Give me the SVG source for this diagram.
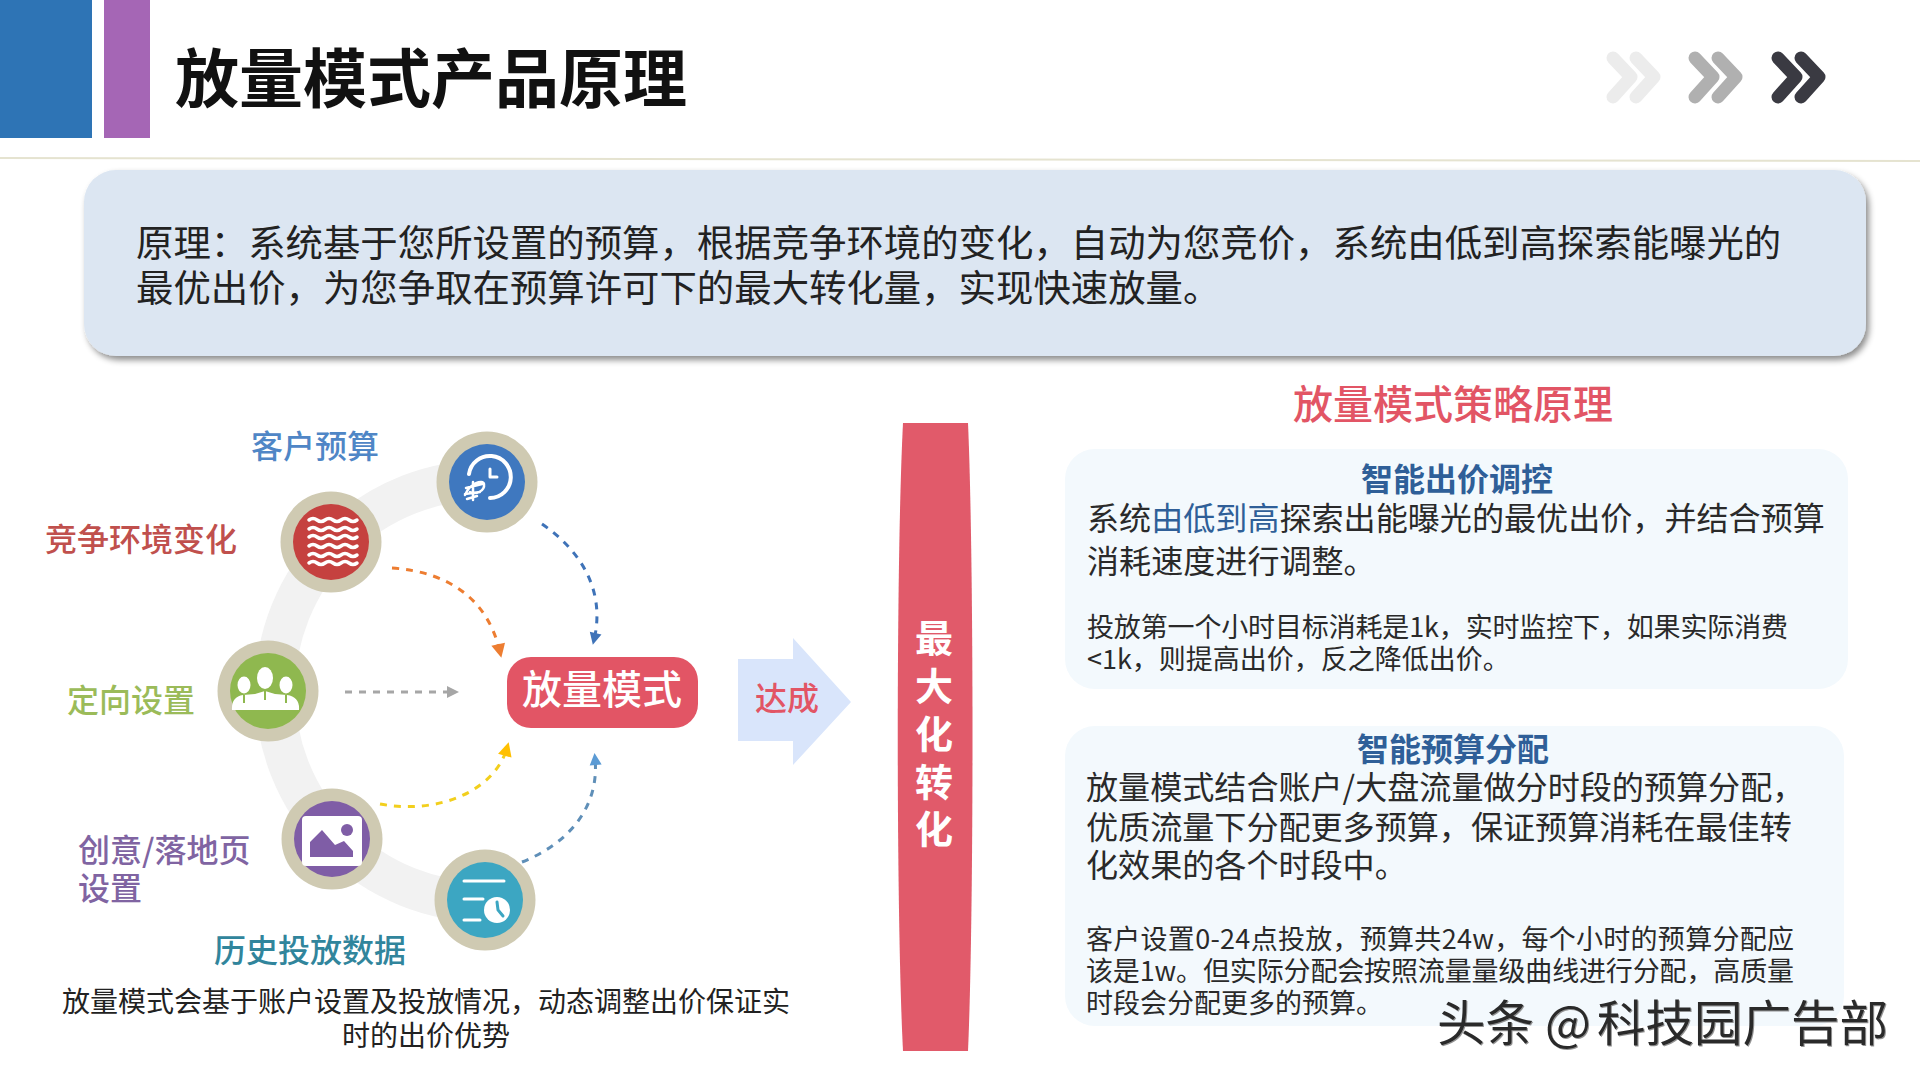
<svg xmlns="http://www.w3.org/2000/svg" width="1920" height="1080" viewBox="0 0 1920 1080">
<defs>
<filter id="sh" x="-3%" y="-10%" width="106%" height="125%"><feDropShadow dx="3" dy="4" stdDeviation="3" flood-color="#000" flood-opacity="0.45"/></filter>
<filter id="wm" x="-2%" y="-10%" width="104%" height="125%"><feDropShadow dx="1" dy="1" stdDeviation="0.6" flood-color="#777" flood-opacity="0.8"/></filter>
<marker id="mBlue" markerWidth="14" markerHeight="14" refX="8" refY="7" orient="auto" markerUnits="userSpaceOnUse"><path d="M1 1 L13 7 L1 13 Z" fill="#3f73b8"/></marker>
<marker id="mOrange" markerWidth="16" markerHeight="16" refX="9" refY="8" orient="auto" markerUnits="userSpaceOnUse"><path d="M1 1 L15 8 L1 15 Z" fill="#ed7d31"/></marker>
<marker id="mGray" markerWidth="14" markerHeight="14" refX="8" refY="7" orient="auto" markerUnits="userSpaceOnUse"><path d="M1 1 L13 7 L1 13 Z" fill="#a6a6a6"/></marker>
<marker id="mYellow" markerWidth="16" markerHeight="16" refX="9" refY="8" orient="auto" markerUnits="userSpaceOnUse"><path d="M1 1 L15 8 L1 15 Z" fill="#ffc000"/></marker>
<marker id="mTeal" markerWidth="14" markerHeight="14" refX="8" refY="7" orient="auto" markerUnits="userSpaceOnUse"><path d="M1 1 L13 7 L1 13 Z" fill="#5b9bd5"/></marker>
</defs>
<style>
text{font-family:"Noto Sans CJK SC","Noto Sans",sans-serif}
.outer{fill:#cfcab2}
.lab{font-size:32px;font-weight:500}
.body{font-size:32.1px;fill:#2a2a2a}
.small{font-size:27px;fill:#2a2a2a}
.card{fill:#f3f9fd}
.head{font-size:32px;font-weight:700;fill:#2f5f98;text-anchor:middle}
.chev{fill:none;stroke-width:13;stroke-linecap:round;stroke-linejoin:round}
.dash{fill:none;stroke-width:3;stroke-dasharray:7 7}
.ic{fill:none;stroke:#fff;stroke-linecap:round;stroke-linejoin:round}
.vert{font-size:38px;font-weight:700;fill:#fff;text-anchor:middle}
</style>
<rect width="1920" height="1080" fill="#fff"/>
<g id="header">
<rect x="0" y="0" width="92" height="138" fill="#2e74b5"/>
<rect x="104" y="0" width="46" height="138" fill="#a566b5"/>
<text x="175" y="102" font-size="64" font-weight="700" fill="#111">放量模式产品原理</text>
<line x1="0" y1="158" x2="1920" y2="161" stroke="#e5e3d0" stroke-width="2"/>
<g class="chev" stroke="#ececec"><path d="M1613 58L1631 77L1613 97M1636 58L1654 77L1636 97"/></g>
<g class="chev" stroke="#b0b0b0"><path d="M1695 58L1713 77L1695 97M1718 58L1736 77L1718 97"/></g>
<g class="chev" stroke="#3a3a42"><path d="M1778 58L1796 77L1778 97M1801 58L1819 77L1801 97"/></g>
</g>
<g id="intro">
<rect x="84" y="170" width="1782" height="186" rx="32" fill="#dce6f2" filter="url(#sh)"/>
<text x="136" y="257" font-size="37.4" fill="#222">原理：系统基于您所设置的预算，根据竞争环境的变化，自动为您竞价，系统由低到高探索能曝光的</text>
<text x="136" y="302" font-size="37.4" fill="#222">最优出价，为您争取在预算许可下的最大转化量，实现快速放量。</text>
</g>
<g id="ring"><path d="M487 480 A211 211 0 0 0 485 902" fill="none" stroke="#f2f2f2" stroke-width="40"/></g>
<g id="connectors">
<path class="dash" stroke="#3f73b8" d="M542 524C580 550 606 590 594 640" marker-end="url(#mBlue)"/>
<path class="dash" stroke="#ed7d31" d="M392 568C450 572 488 600 500 652" marker-end="url(#mOrange)"/>
<path class="dash" stroke="#a6a6a6" d="M345 692H454" marker-end="url(#mGray)"/>
<path class="dash" stroke="#f2cf1d" d="M380 804C440 815 495 790 507 748" marker-end="url(#mYellow)"/>
<path class="dash" stroke="#5f8fb8" d="M522 862C565 845 600 810 595 758" marker-end="url(#mTeal)"/>
</g>
<g id="node-budget">
<circle class="outer" cx="487" cy="482" r="50.5"/><circle cx="487" cy="482" r="38" fill="#3f78bf"/>
<path class="ic" stroke-width="4" d="M469 474A21 21 0 1 1 490 498"/><path class="ic" stroke-width="3" d="M490 469V477H497"/>
<path class="ic" stroke-width="2.5" d="M465 495C470 483 483 479 484 484C485 491 476 495 470 492M466 488L482 484M465 494L480 492M473 482V500M467 499L477 496"/>
<text x="251" y="458" class="lab" fill="#4f86c6">客户预算</text>
</g>
<g id="node-competition">
<circle class="outer" cx="331" cy="542" r="50.5"/><circle cx="331" cy="542" r="38" fill="#c5413f"/>
<path class="ic" stroke-width="3.5" d="M309 520q4 -3 8 0t8 0t8 0t8 0t8 0t8 0M309 529q4 -3 8 0t8 0t8 0t8 0t8 0t8 0M309 537q4 -3 8 0t8 0t8 0t8 0t8 0t8 0M309 546q4 -3 8 0t8 0t8 0t8 0t8 0t8 0M309 555q4 -3 8 0t8 0t8 0t8 0t8 0t8 0M309 563q4 -3 8 0t8 0t8 0t8 0t8 0t8 0"/>
<text x="45" y="551" class="lab" fill="#c0504d">竞争环境变化</text>
</g>
<g id="node-targeting">
<circle class="outer" cx="268" cy="691" r="50.5"/><circle cx="268" cy="691" r="38" fill="#8fb84f"/>
<g fill="#fff"><ellipse cx="244" cy="685" rx="6.5" ry="8.5"/><ellipse cx="265" cy="678" rx="8" ry="11"/><ellipse cx="286" cy="685" rx="6.5" ry="8.5"/>
<path d="M232 710Q231 697 243 695L255 694L265 691L275 694L287 695Q300 697 299 710Z"/></g>
<path fill="none" stroke="#8fb84f" stroke-width="2" d="M244 695V703M265 691V700M286 695V703"/>
<text x="67" y="712" class="lab" fill="#9bbb59">定向设置</text>
</g>
<g id="node-creative">
<circle class="outer" cx="332" cy="839" r="50.5"/><circle cx="332" cy="839" r="38" fill="#7f5da6"/>
<rect x="302" y="816" width="60" height="50" rx="4" fill="#fff"/>
<path d="M310 857V842L322 830L335 845L344 841L353 851V857Z" fill="#7f5da6"/><circle cx="347" cy="830" r="6" fill="#7f5da6"/>
<text x="78" y="862" class="lab" fill="#8064a2">创意/落地页</text>
<text x="78" y="900" class="lab" fill="#8064a2">设置</text>
</g>
<g id="node-history">
<circle class="outer" cx="485" cy="900" r="50.5"/><circle cx="485" cy="900" r="38" fill="#3ca6c2"/>
<path class="ic" stroke-width="3" d="M464 881H504M464 899H483M464 920H480"/>
<circle cx="497" cy="910" r="13" fill="#fff"/><path fill="none" stroke="#3ca6c2" stroke-width="3" stroke-linecap="round" d="M497 902L498 910L503 916"/>
<text x="214" y="962" class="lab" fill="#31859c">历史投放数据</text>
</g>
<g id="caption">
<text x="426" y="1012" font-size="28" fill="#222" text-anchor="middle">放量模式会基于账户设置及投放情况，动态调整出价保证实</text>
<text x="426" y="1046" font-size="28" fill="#222" text-anchor="middle">时的出价优势</text>
</g>
<g id="node-mode">
<rect x="507" y="657" width="191" height="71" rx="24" fill="#e25565"/>
<text x="602" y="704" font-size="40" font-weight="500" fill="#fff" text-anchor="middle">放量模式</text>
</g>
<g id="node-achieve">
<path d="M738 659H793V638L851 702L793 765V741H738Z" fill="#d9e5fb"/>
<text x="787" y="710" font-size="32" font-weight="500" fill="#e25565" text-anchor="middle">达成</text>
</g>
<g id="node-max">
<path d="M903 423H968C974 560 974 914 968 1051H903C896 914 896 560 903 423Z" fill="#e15a6a"/>
<text x="934" y="652" class="vert">最</text><text x="934" y="700" class="vert">大</text><text x="934" y="748" class="vert">化</text><text x="934" y="796" class="vert">转</text><text x="934" y="843" class="vert">化</text>
</g>
<text x="1453" y="419" font-size="40" font-weight="500" fill="#e25565" text-anchor="middle">放量模式策略原理</text>
<g id="card-bid">
<rect class="card" x="1065" y="449" width="783" height="240" rx="30"/>
<text x="1457" y="491" class="head">智能出价调控</text>
<text x="1087" y="530" class="body">系统<tspan fill="#2f5f98">由低到高</tspan>探索出能曝光的最优出价，并结合预算</text>
<text x="1087" y="573" class="body">消耗速度进行调整。</text>
<text x="1087" y="637" class="small" textLength="701">投放第一个小时目标消耗是1k，实时监控下，如果实际消费</text>
<text x="1087" y="669" class="small">&lt;1k，则提高出价，反之降低出价。</text>
</g>
<g id="card-budget">
<rect class="card" x="1065" y="726" width="779" height="300" rx="30"/>
<text x="1453" y="761" class="head">智能预算分配</text>
<text x="1086" y="799" class="body">放量模式结合账户/大盘流量做分时段的预算分配，</text>
<text x="1086" y="839" class="body">优质流量下分配更多预算，保证预算消耗在最佳转</text>
<text x="1086" y="877" class="body">化效果的各个时段中。</text>
<text x="1086" y="949" class="small" textLength="708">客户设置0-24点投放，预算共24w，每个小时的预算分配应</text>
<text x="1086" y="981" class="small" textLength="708">该是1w。但实际分配会按照流量量级曲线进行分配，高质量</text>
<text x="1086" y="1013" class="small">时段会分配更多的预算。</text>
</g>
<g id="watermark">
<text y="1041" font-size="48.5" fill="#2a2a2a" filter="url(#wm)"><tspan x="1437">头条</tspan><tspan x="1545">@</tspan><tspan x="1597">科技园广告部</tspan></text>
</g>
</svg>
